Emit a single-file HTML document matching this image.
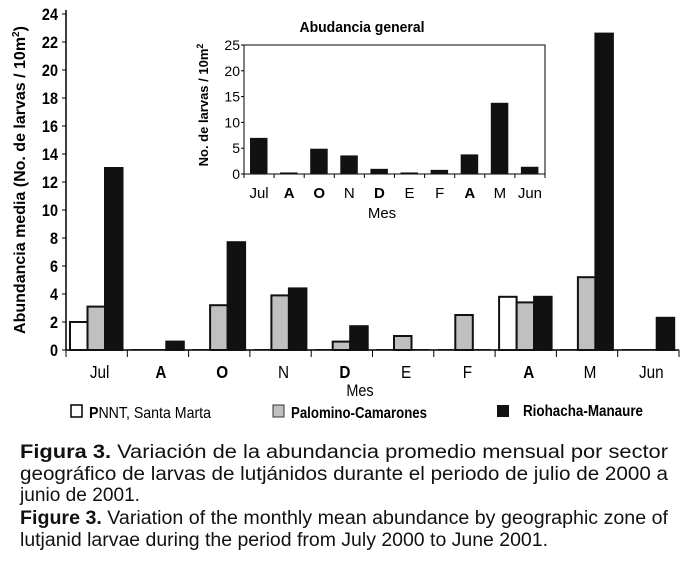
<!DOCTYPE html>
<html><head><meta charset="utf-8"><style>
html,body{margin:0;padding:0;background:#fff;}
svg{display:block;font-family:"Liberation Sans",sans-serif;}
</style></head><body>
<svg id="fig" width="683" height="568" viewBox="0 0 683 568">
<g id="main"></g>
<g id="inset"></g>
<g font-size="16">
 <g>
  <rect x="71" y="405" width="11" height="12" fill="#fff" stroke="#000" stroke-width="1.5"/>
  <text x="89" y="418" textLength="122" lengthAdjust="spacingAndGlyphs"><tspan font-weight="bold">P</tspan>NNT, Santa Marta</text>
 </g>
 <g>
  <rect x="273" y="405" width="11" height="12" fill="#c0c0c0" stroke="#333" stroke-width="1"/>
  <text x="291" y="418" font-weight="bold" textLength="136" lengthAdjust="spacingAndGlyphs">Palomino-Camarones</text>
 </g>
 <g>
  <rect x="497" y="405" width="12" height="12" fill="#111"/>
  <text x="523" y="416" font-weight="bold" textLength="120" lengthAdjust="spacingAndGlyphs">Riohacha-Manaure</text>
 </g>
</g>
<g font-size="19" fill="#111">
 <text x="20" y="458" textLength="648" lengthAdjust="spacingAndGlyphs"><tspan font-weight="bold">Figura 3.</tspan> Variación de la abundancia promedio mensual por sector</text>
 <text x="20" y="480" textLength="648" lengthAdjust="spacingAndGlyphs">geográfico de larvas de lutjánidos durante el periodo de julio de 2000 a</text>
 <text x="20" y="501" textLength="120" lengthAdjust="spacingAndGlyphs">junio de 2001.</text>
 <text x="20" y="524" textLength="648" lengthAdjust="spacingAndGlyphs"><tspan font-weight="bold">Figure 3.</tspan> Variation of the monthly mean abundance by geographic zone of</text>
 <text x="20" y="546" textLength="528" lengthAdjust="spacingAndGlyphs">lutjanid larvae during the period from July 2000 to June 2001.</text>
</g>
</svg>
<script>
const categories=["Jul","A","O","N","D","E","F","A","M","Jun"];
const pnnt=[2.0,0,0,0,0,0,0,3.8,0,0];
const palomino=[3.1,0,3.2,3.9,0.6,1.0,2.5,3.4,5.2,0];
const riohacha=[13.0,0.6,7.7,4.4,1.7,0,0,3.8,22.6,2.3];
const mainTicks=[0,2,4,6,8,10,12,14,16,18,20,22,24];
const insetValues=[7.0,0.3,4.9,3.6,1.0,0.3,0.8,3.8,13.8,1.4];
const insetTicks=[0,5,10,15,20,25];

const NS="http://www.w3.org/2000/svg";
function mk(tag,attrs,parent,txt){const e=document.createElementNS(NS,tag);for(const k in attrs)e.setAttribute(k,attrs[k]);if(txt!=null)e.textContent=txt;parent.appendChild(e);return e;}

const M=document.getElementById('main');
const mx0=66,mx1=679,my0=350,myTop=14;
const mY=v=>my0-(v/24)*(my0-myTop);
const gw=(mx1-mx0)/categories.length;
const mX=i=>mx0+i*gw;
let e=mk('line',{x1:mx0,y1:10,x2:mx0,y2:my0,stroke:'#000','stroke-width':1.5},M);


e=mk('line',{x1:mx0,y1:my0,x2:mx1,y2:my0,stroke:'#000','stroke-width':1.5},M);


mainTicks.forEach(t=>{
 mk('line',{x1:mx0-4,y1:mY(t),x2:mx0,y2:mY(t),stroke:'#000'},M);
 e=mk('text',{x:mx0-8,y:mY(t)+6,'text-anchor':'end','font-size':17,'font-weight':'bold',transform:`translate(${mx0-8},0) scale(0.85,1) translate(${-(mx0-8)},0)`},M,String(t));
 
 
});
for(let i=0;i<=categories.length;i++){mk('line',{x1:mX(i),y1:my0,x2:mX(i),y2:my0+7,stroke:'#000'},M);}
const series=[[pnnt,'#fff','pnnt'],[palomino,'#c0c0c0','palomino'],[riohacha,'#111','riohacha']];
const bw=17.5;
categories.forEach((c,i)=>{
 series.forEach(([arr,fill,nm],s)=>{
  const x=mX(i)+4+s*bw,v=arr[i];
  if(v>0){
   e=mk('rect',{x:x,y:mY(v),width:bw,height:my0-mY(v),fill:fill,stroke:'#111','stroke-width':2},M);
  } else {
   e=mk('rect',{x:x,y:my0-1,width:bw,height:1,fill:'#111'},M);
  }
  
  
 });
 const lx=mX(i)+gw/2+3;
 e=mk('text',{x:lx,y:378,'text-anchor':'middle','font-size':18,'font-weight':(c==='A'||c==='O'||c==='D')?'bold':'normal',transform:`translate(${lx},0) scale(0.85,1) translate(${-lx},0)`},M,c);
 
 
});
e=mk('text',{x:360,y:396,'text-anchor':'middle','font-size':17,transform:'translate(360,0) scale(0.85,1) translate(-360,0)'},M,'Mes');


e=mk('text',{x:0,y:0,'text-anchor':'middle','font-size':16,'font-weight':'bold',transform:'translate(25,180) rotate(-90)'},M,'');
e.innerHTML='Abundancia media (No. de larvas / 10m<tspan dy="-6" font-size="10">2</tspan><tspan dy="6">)</tspan>';



const I=document.getElementById('inset');
const ix0=244,ix1=545,iy0=174,iyTop=45;
const iY=v=>iy0-(v/25)*(iy0-iyTop);
const igw=(ix1-ix0)/categories.length;
e=mk('rect',{x:ix0,y:iyTop,width:ix1-ix0,height:iy0-iyTop,fill:'none',stroke:'#000','stroke-width':1},I);


insetTicks.forEach(t=>{
 mk('line',{x1:ix0-3,y1:iY(t),x2:ix0,y2:iY(t),stroke:'#000'},I);
 e=mk('text',{x:ix0-4,y:iY(t)+5,'text-anchor':'end','font-size':14},I,String(t));
 
 
});
for(let i=0;i<=categories.length;i++){mk('line',{x1:ix0+i*igw,y1:iy0,x2:ix0+i*igw,y2:iy0+4,stroke:'#000'},I);}
categories.forEach((c,i)=>{
 const v=insetValues[i];
 e=mk('rect',{x:ix0+i*igw+6,y:iY(v),width:17.5,height:iy0-iY(v),fill:'#111'},I);
 
 
 e=mk('text',{x:ix0+i*igw+igw/2,y:198,'text-anchor':'middle','font-size':15,'font-weight':(c==='A'||c==='O'||c==='D')?'bold':'normal'},I,c);
 
 
});
e=mk('text',{x:382,y:218,'text-anchor':'middle','font-size':15},I,'Mes');


e=mk('text',{x:362,y:32,'text-anchor':'middle','font-size':15,'font-weight':'bold',textLength:125,lengthAdjust:'spacingAndGlyphs'},I,'Abudancia general');


e=mk('text',{x:0,y:0,'text-anchor':'middle','font-size':13,'font-weight':'bold',transform:'translate(208,105) rotate(-90)'},I,'');
e.innerHTML='No. de larvas / 10m<tspan dy="-5" font-size="9">2</tspan>';


</script>
</body></html>
